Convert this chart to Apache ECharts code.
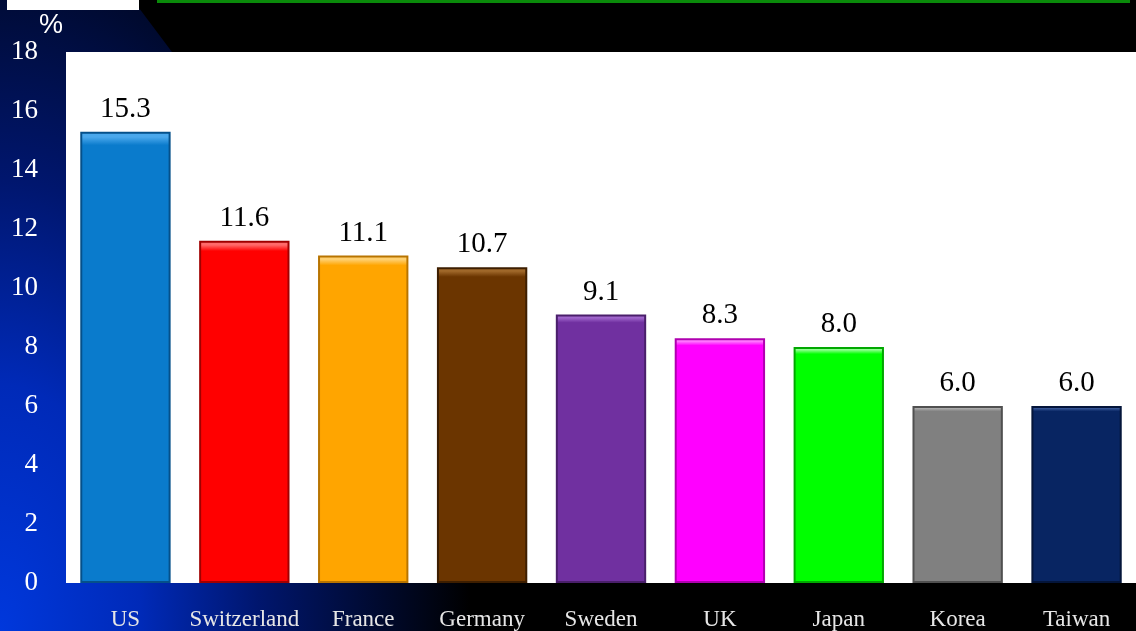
<!DOCTYPE html>
<html><head><meta charset="utf-8">
<script src="https://cdn.jsdelivr.net/npm/echarts@6/dist/echarts.min.js"></script>
<style>
html,body{margin:0;padding:0;background:#000;}
#c{width:1136px;height:631px;background:radial-gradient(ellipse 470px 820px at 0% 100%, #0038dc 0%, #002ab8 30%, #00166e 55%, #000a30 80%, #000 100%);}
</style></head>
<body><div id="c"></div>
<script>
const categories = ['US','Switzerland','France','Germany','Sweden','UK','Japan','Korea','Taiwan'];
const values = [15.3, 11.6, 11.1, 10.7, 9.1, 8.3, 8.0, 6.0, 6.0];
const barColors = ['#0a7bcc','#ff0000','#ffa500','#6b3500','#7030a0','#ff00ff','#00ff00','#808080','#082562'];
const edgeColors = ['#05508a','#a00000','#b87400','#3d1e00','#4a1f6b','#b000b0','#00a800','#505050','#04153a'];
const lightColors = ['#4aa8ec','#ff6a6a','#ffd070','#a0682a','#a066cc','#ff80ff','#90ff90','#b0b0b0','#3a5a9a'];
const yTicks = [0,2,4,6,8,10,12,14,16,18];

const chart = echarts.init(document.getElementById('c'), null, {renderer:'canvas'});
chart.setOption({
  backgroundColor: 'transparent',
  animation: false,
  grid: {left:66, right:0, top:52, bottom:48, show:true, backgroundColor:'#ffffff', borderWidth:0},
  xAxis: {
    type:'category', data:categories,
    axisLine:{show:false}, axisTick:{show:false},
    axisLabel:{interval:0, color:'#e6e6e6', fontFamily:'Liberation Serif', fontSize:23, margin:25}
  },
  yAxis: {
    type:'value', min:yTicks[0], max:yTicks[yTicks.length-1], interval:2,
    axisLine:{show:false}, axisTick:{show:false}, splitLine:{show:false},
    axisLabel:{color:'#ffffff', fontFamily:'Liberation Serif', fontSize:27, margin:28, padding:[5,0,0,0]}
  },
  graphic: [
    {type:'polygon', shape:{points:[[133,0],[1136,0],[1136,52],[172,52]]}, style:{fill:'#000'}, z:-5},
    {type:'rect', shape:{x:7,y:0,width:132,height:10}, style:{fill:'#ffffff'}},
    {type:'rect', shape:{x:157,y:0,width:973,height:3}, style:{fill:'#0a8a0a'}},
    {type:'text', left:39, top:12, style:{text:'%', fill:'#ffffff', font:'27px "Liberation Sans"'}}
  ],
  series: [{
    type:'bar', barWidth:'76%',
    data: values.map((v,i)=>({value:v, itemStyle:{
      color:{type:'linear', x:0, y:0, x2:0, y2:1, colorStops:[
        {offset:0, color:lightColors[i]}, {offset:0.012, color:lightColors[i]},
        {offset:0.03, color:barColors[i]}, {offset:1, color:barColors[i]}]},
      borderColor:edgeColors[i], borderWidth:2}})),
    label:{show:true, position:'top', distance:8, color:'#000', fontFamily:'Liberation Serif', fontSize:29,
      formatter: p => p.value.toFixed(1)}
  }]
});
</script></body></html>
